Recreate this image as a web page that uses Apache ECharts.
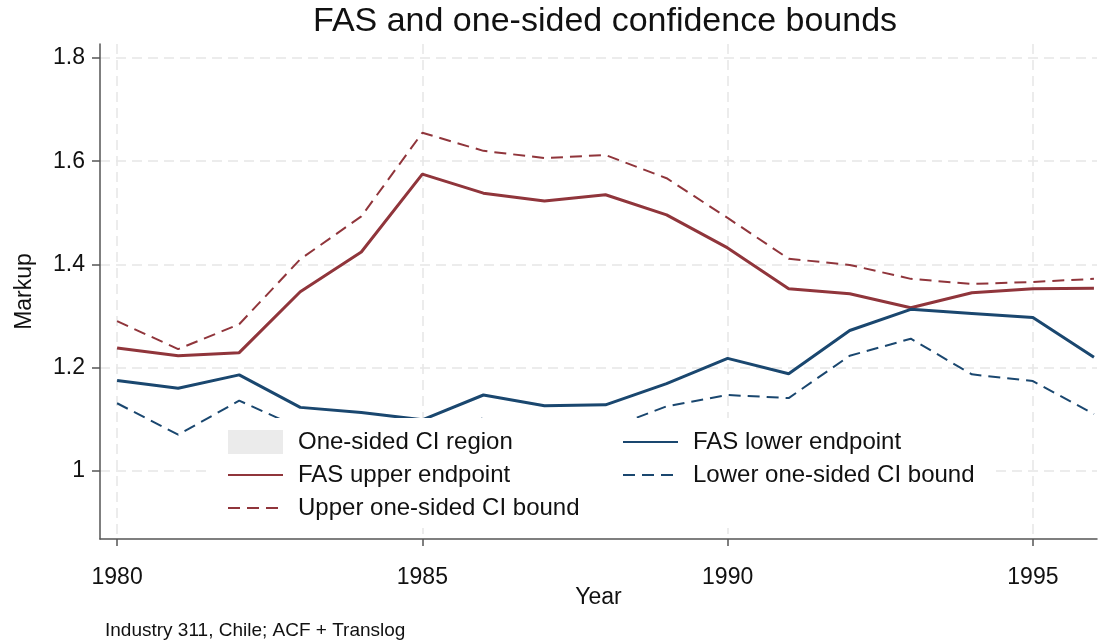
<!DOCTYPE html>
<html>
<head>
<meta charset="utf-8">
<script src="https://cdn.jsdelivr.net/npm/echarts@6/dist/echarts.min.js"></script>
<style>html,body{margin:0;padding:0;background:#fff}#c{width:1099px;height:640px}</style>
</head>
<body>
<div id="c"></div>
<script>
const years = [1980,1981,1982,1983,1984,1985,1986,1987,1988,1989,1990,1991,1992,1993,1994,1995,1996];
const fasUpper = [1.238,1.223,1.229,1.347,1.424,1.575,1.538,1.523,1.535,1.496,1.432,1.353,1.343,1.316,1.345,1.353,1.354];
const ciUpper  = [1.290,1.236,1.284,1.410,1.493,1.655,1.620,1.606,1.612,1.567,1.490,1.411,1.399,1.372,1.362,1.366,1.372];
const fasLower = [1.175,1.160,1.186,1.123,1.113,1.099,1.147,1.126,1.128,1.169,1.218,1.188,1.272,1.313,1.305,1.297,1.220];
const ciLower  = [1.131,1.070,1.136,1.083,1.070,1.060,1.102,1.070,1.080,1.125,1.147,1.141,1.223,1.256,1.187,1.174,1.110];
const xTicks = [1980,1985,1990,1995];
const yTicks = [1,1.2,1.4,1.6,1.8];
const yTickLabels = ['1','1.2','1.4','1.6','1.8'];

const RED = '#90353b', BLUE = '#1a476f';
const FONT = '"Liberation Sans", Arial, sans-serif';
const pairs = arr => years.map((y,i)=>[y, arr[i]]);

const chart = echarts.init(document.getElementById('c'), null, {renderer:'canvas'});
const gridLine = {show:true, lineStyle:{color:'#e6e6e6', width:1.5, type:[10,6]}};
const legendText = {fontFamily:FONT, fontSize:24, color:'#111', lineHeight:24, padding:[0,0,0,10]};
const hideSym = {color:'rgba(0,0,0,0)', borderWidth:0, opacity:0};

chart.setOption({
  animation:false,
  backgroundColor:'#fff',
  textStyle:{fontFamily:FONT},
  title:[
    {text:'FAS and one-sided confidence bounds', left:313, top:5, padding:0,
     textStyle:{fontFamily:FONT, fontSize:34, fontWeight:'normal', color:'#111'}},
    {text:'Industry 311, Chile; ACF + Translog', left:105, top:621, padding:0,
     textStyle:{fontFamily:FONT, fontSize:19, fontWeight:'normal', color:'#111'}}
  ],
  grid:{left:100, right:2, top:44, bottom:101, containLabel:false},
  xAxis:{
    type:'value', min:1979.72, max:1996.05,
    name:'Year', nameLocation:'middle', nameGap:47, nameMoveOverlap:false,
    nameTextStyle:{fontFamily:FONT, fontSize:23, color:'#111'},
    axisLine:{show:true, onZero:false, lineStyle:{color:'#555', width:1.5}},
    axisTick:{show:true, length:7, customValues:xTicks, lineStyle:{color:'#555', width:1.5}},
    axisLabel:{customValues:xTicks, fontFamily:FONT, fontSize:23, color:'#111', margin:27,
      formatter:v=>String(v)},
    splitLine:gridLine
  },
  yAxis:{
    type:'value', min:0.868, max:1.827,
    name:'Markup', nameLocation:'middle', nameGap:64, nameRotate:90, nameMoveOverlap:false,
    nameTextStyle:{fontFamily:FONT, fontSize:23, color:'#111'},
    axisLine:{show:true, onZero:false, lineStyle:{color:'#555', width:1.5}},
    axisTick:{show:true, length:8, customValues:yTicks, lineStyle:{color:'#555', width:1.5}},
    axisLabel:{customValues:yTicks, fontFamily:FONT, fontSize:23, color:'#111', margin:15,
      formatter:v=>{const i=yTicks.findIndex(t=>Math.abs(t-v)<1e-6);return i>=0?yTickLabels[i]:'';}},
    splitLine:gridLine
  },
  legend:[
    {left:210, top:418, orient:'vertical', padding:[12,413,8,17], itemGap:9, itemWidth:55, itemHeight:24, z:5,
     backgroundColor:'#ffffff', textStyle:legendText, itemStyle:hideSym,
     data:[{name:'One-sided CI region', icon:'rect', itemStyle:{color:'#ebebeb', opacity:1}},
           'FAS upper endpoint','Upper one-sided CI bound']},
    {left:622, top:430, orient:'vertical', padding:0, itemGap:9, itemWidth:55, itemHeight:24, z:6,
     textStyle:legendText, itemStyle:hideSym,
     data:['FAS lower endpoint','Lower one-sided CI bound']}
  ],
  series:[
    {name:'One-sided CI region', type:'line', data:[], symbol:'none', itemStyle:{color:'#ebebeb'}},
    {name:'FAS upper endpoint', type:'line', data:pairs(fasUpper), symbol:'none',
     itemStyle:{color:RED}, lineStyle:{color:RED, width:3}},
    {name:'Upper one-sided CI bound', type:'line', data:pairs(ciUpper), symbol:'none',
     itemStyle:{color:RED}, lineStyle:{color:RED, width:2, type:[12,7]}},
    {name:'FAS lower endpoint', type:'line', data:pairs(fasLower), symbol:'none',
     itemStyle:{color:BLUE}, lineStyle:{color:BLUE, width:3}},
    {name:'Lower one-sided CI bound', type:'line', data:pairs(ciLower), symbol:'none',
     itemStyle:{color:BLUE}, lineStyle:{color:BLUE, width:2, type:[12,7]}}
  ]
});
</script>
</body>
</html>
